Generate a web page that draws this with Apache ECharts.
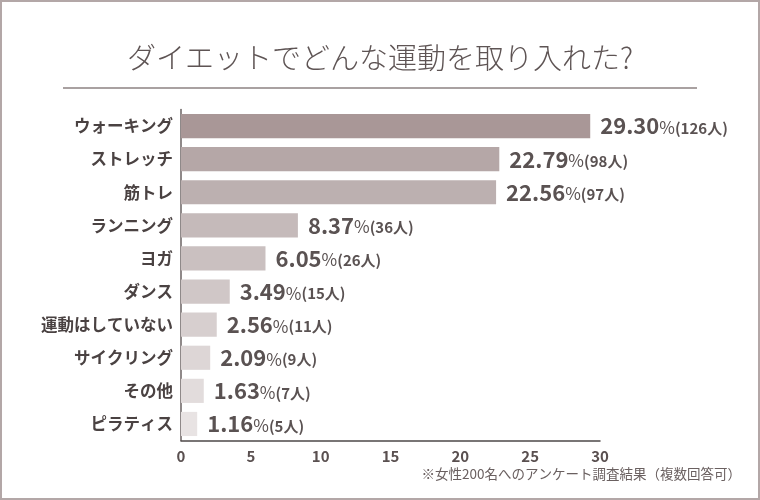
<!DOCTYPE html>
<html>
<head>
<meta charset="utf-8">
<script src="https://cdn.jsdelivr.net/npm/echarts@6/dist/echarts.min.js"></script>
<style>html,body{margin:0;padding:0;background:#fff;}#c{width:760px;height:500px;}</style>
</head>
<body>
<div id="c"></div>
<script>
const categories = ['ウォーキング','ストレッチ','筋トレ','ランニング','ヨガ','ダンス','運動はしていない','サイクリング','その他','ピラティス'];
const percents = [29.30, 22.79, 22.56, 8.37, 6.05, 3.49, 2.56, 2.09, 1.63, 1.16];
const counts = [126, 98, 97, 36, 26, 15, 11, 9, 7, 5];
const barColors = ['#a99797','#b5a7a7','#bcb0b0','#c5baba','#cac0c0','#d0c7c7','#d7cfcf','#ddd6d6','#e2dcdc','#e8e3e3'];
const xTicks = [0, 5, 10, 15, 20, 25, 30];
const titleText = 'ダイエットでどんな運動を取り入れた?';
const noteText = '※女性200名へのアンケート調査結果（複数回答可）';

const FONT = '"Noto Sans CJK JP", "Noto Sans", sans-serif';
const chart = echarts.init(document.getElementById('c'), null, {renderer: 'canvas'});
chart.setOption({
  animation: false,
  backgroundColor: '#fff',
  title: {
    text: titleText, left: 'center', top: 38,
    textStyle: {fontFamily: FONT, fontSize: 29, fontWeight: 300, color: '#5e5454'}
  },
  graphic: [
    {type: 'rect', shape: {x: 1, y: 1, width: 758, height: 498}, style: {fill: 'none', stroke: '#b3a7a7', lineWidth: 2}, silent: true},
    {type: 'line', shape: {x1: 63, y1: 88, x2: 697, y2: 88}, style: {stroke: '#8c8282', lineWidth: 1.5}, silent: true},
    {type: 'text', right: 19, top: 467, style: {text: noteText, font: '13.5px ' + FONT, fill: '#6a6060'}, silent: true}
  ],
  grid: {left: 181, right: 160, top: 109.5, bottom: 59.5, containLabel: false},
  xAxis: {
    type: 'value', min: xTicks[0], max: xTicks[xTicks.length - 1], interval: 5,
    axisLine: {show: true, lineStyle: {color: '#4e4848', width: 1.5}},
    axisTick: {show: false}, splitLine: {show: false},
    axisLabel: {fontFamily: FONT, fontSize: 15, fontWeight: 'bold', color: '#5a5050', margin: 8}
  },
  yAxis: {
    type: 'category', data: categories, inverse: true,
    axisLine: {show: true, lineStyle: {color: '#6a6262', width: 1.5}},
    axisTick: {show: false},
    axisLabel: {fontFamily: FONT, fontSize: 16.5, fontWeight: 'bold', color: '#4a4242', margin: 8}
  },
  series: [{
    type: 'bar',
    data: percents.map((v, i) => ({value: v, itemStyle: {color: barColors[i]}})),
    barCategoryGap: '27%',
    label: {
      show: true, position: 'right', distance: 10,
      formatter: p => '{a|' + percents[p.dataIndex].toFixed(2) + '}{b|%}{c|(' + counts[p.dataIndex] + '人)}',
      rich: {
        a: {fontFamily: FONT, fontSize: 22, fontWeight: 'bold', color: '#5a5252'},
        b: {fontFamily: FONT, fontSize: 17, color: '#5a5252', padding: [3, 0, 0, 0]},
        c: {fontFamily: FONT, fontSize: 15, fontWeight: 'bold', color: '#5a5252', padding: [4, 0, 0, 0]}
      }
    }
  }]
});
</script>
</body>
</html>
